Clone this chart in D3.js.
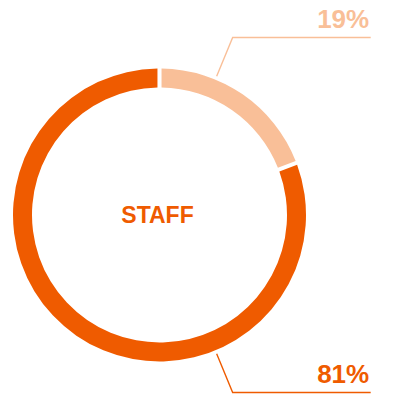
<!DOCTYPE html>
<html>
<head>
<meta charset="utf-8">
<script src="https://cdn.jsdelivr.net/npm/d3@7"></script>
<style>
    body { margin: 0; background: #fff; }
    text { font-family: Arial, "Liberation Sans", sans-serif; font-weight: bold; }
</style>
</head>
<body>
<svg id="chart" width="400" height="400"></svg>
<script>
// data
var categories = ["other", "staff"];
var values = [19, 81];
var labels = ["19%", "81%"];
var colors = ["#f9bf98", "#ef5b00"];
var centerLabel = "STAFF";

var svg = d3.select("#chart");
var cx = 159.5, cy = 215,
    outerR = 146.5, innerR = 127.5;

var g = svg.append("g")
    .attr("transform", "translate(" + cx + "," + cy + ")");

var pie = d3.pie()
    .sort(null)
    .value(function (d) { return d; })
    .padAngle(0.021);

var arc = d3.arc()
    .innerRadius(innerR)
    .outerRadius(outerR);

var color = d3.scaleOrdinal()
    .domain(categories)
    .range(colors);

g.selectAll("path.slice")
    .data(pie(values))
    .enter()
    .append("path")
    .attr("class", "slice")
    .attr("d", arc)
    .attr("fill", function (d, i) { return color(categories[i]); });

// centre title
g.append("text")
    .attr("x", -2)
    .attr("dy", "0.33em")
    .attr("text-anchor", "middle")
    .attr("font-size", 23)
    .attr("fill", colors[1])
    .text(centerLabel);

// leader lines: one up-right, one down-right, radial then horizontal
var leaderAngle = 22.4 * Math.PI / 180;
var r0 = 150, r1 = 192, lineEnd = 370.7 - cx;
var leaderDir = [-1, 1]; // -1 = above, 1 = below

leaderDir.forEach(function (dir, i) {
    var sx = Math.sin(leaderAngle), sy = Math.cos(leaderAngle) * dir;
    var pts = [
        [r0 * sx, r0 * sy],
        [r1 * sx, r1 * sy],
        [lineEnd, r1 * sy]
    ];
    g.append("path")
        .attr("d", d3.line()(pts))
        .attr("fill", "none")
        .attr("stroke", color(categories[i]))
        .attr("stroke-width", 1.4);

    g.append("text")
        .attr("x", lineEnd - 1.5)
        .attr("y", r1 * sy - 9.5)
        .attr("text-anchor", "end")
        .attr("font-size", 26)
        .attr("fill", color(categories[i]))
        .text(labels[i]);
});
</script>
</body>
</html>
